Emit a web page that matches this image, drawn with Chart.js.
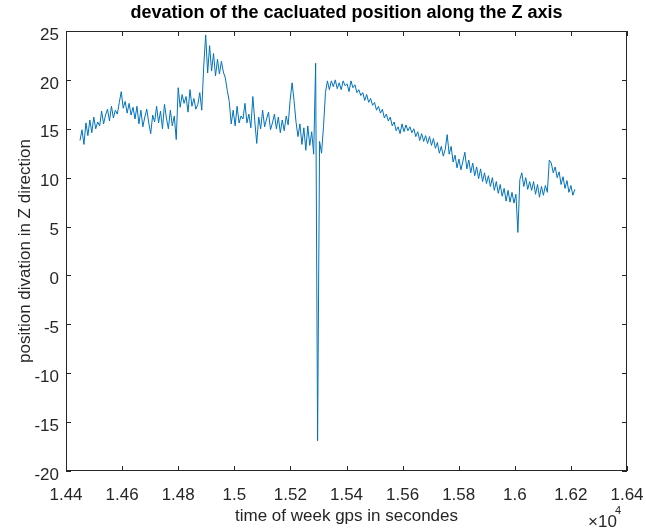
<!DOCTYPE html>
<html>
<head>
<meta charset="utf-8">
<script src="https://cdn.jsdelivr.net/npm/chart.js@4"></script>
<style>
  html, body { margin: 0; padding: 0; background: #fff; }
  #wrap { width: 646px; height: 529px; }
</style>
</head>
<body>
<div id="wrap"><canvas id="myChart" width="646" height="529"></canvas></div>
<script>
// gps time of week, one sample every 7 s starting at 14450 s
const timeStart = 14450;
const timeStep = 7;

// deviation along Z
const zValues = [
  13.8, 14.9, 13.4, 15.6, 14.3, 15.9, 14.6, 16.2, 15.0, 15.7,
  15.3, 16.8, 15.5, 16.4, 17.0, 15.8, 17.3, 16.1, 16.9, 16.5,
  17.7, 18.8, 17.1, 17.8, 16.6, 17.6, 16.4, 17.2, 16.0, 17.3,
  15.5, 16.9, 15.2, 16.2, 17.0, 15.6, 14.5, 16.4, 15.7, 17.3,
  15.6, 16.8, 15.0, 17.5, 16.1, 15.0, 16.9, 15.3, 16.3, 13.9,
  19.2, 17.2, 18.5, 17.6, 18.3, 16.7, 19.0, 17.3, 18.1, 17.0,
  17.5, 18.7, 16.9, 21.4, 24.6, 20.7, 23.5, 20.9, 22.7, 20.4,
  22.1, 20.6, 21.9, 20.8, 20.2, 18.9, 17.8, 15.5, 16.9, 15.3,
  17.3, 15.6, 16.3, 16.0, 17.6, 15.6, 16.5, 15.1, 18.3, 15.8,
  13.5, 16.2, 15.0, 16.9, 15.2, 16.0, 16.7, 14.9, 15.6, 16.5,
  15.0, 16.2, 14.6, 15.9, 14.8, 16.3, 15.4, 17.9, 19.7, 17.9,
  15.7, 14.2, 15.5, 13.4, 15.1, 12.8, 15.3, 13.3, 14.7, 12.4,
  21.7, -16.9, 13.7, 12.5, 15.2, 18.7, 19.9, 19.0, 19.9, 19.3,
  20.0, 19.1, 19.7, 19.0, 19.9, 19.4, 19.6, 18.8, 19.9, 19.2,
  19.5, 18.7, 19.0, 18.4, 18.7, 17.9, 18.5, 17.7, 18.1, 17.4,
  17.7, 16.9, 17.3, 16.6, 17.0, 16.1, 16.5, 15.8, 16.2, 15.3,
  15.7, 14.8, 15.2, 14.5, 15.5, 14.7, 15.4, 14.8, 15.2, 14.6,
  15.0, 14.2, 14.7, 13.8, 14.5, 13.7, 14.3, 13.5, 14.2, 13.3,
  14.0, 13.0, 13.6, 12.5, 13.2, 12.2, 12.9, 14.4, 12.4, 13.2,
  11.6, 12.3, 11.0, 11.9, 10.8, 11.7, 12.6, 10.9, 11.8, 10.5,
  11.5, 10.2, 11.1, 9.9, 10.9, 9.6, 10.5, 9.4, 10.2, 9.1,
  10.0, 8.7, 9.6, 8.4, 9.3, 8.1, 8.9, 7.6, 8.7, 7.5,
  8.5, 7.4, 8.3, 4.4, 9.8, 10.5, 9.1, 10.0, 8.8, 9.6,
  8.7, 9.6, 8.3, 9.3, 8.0, 9.1, 8.2, 9.2, 8.5, 11.8,
  11.5, 10.5, 11.1, 10.0, 10.6, 9.3, 10.1, 8.9, 9.7, 8.5,
  9.2, 8.2, 8.8
];

const xTicks = [14400, 14600, 14800, 15000, 15200, 15400, 15600, 15800, 16000, 16200, 16400];
const yTicks = [-20, -15, -10, -5, 0, 5, 10, 15, 20, 25];

const points = zValues.map((v, i) => ({ x: timeStart + i * timeStep, y: v }));

const FONT = '"Liberation Sans", Arial, Helvetica, sans-serif';
const INK = "#262626";

// matlab style box, inward ticks, title and the x10^4 exponent
const matlabAxes = {
  id: "matlabAxes",
  afterDraw(chart) {
    const { ctx, chartArea: a, scales } = chart;
    ctx.save();
    ctx.strokeStyle = INK;
    ctx.lineWidth = 1;
    ctx.strokeRect(a.left + 0.5, a.top + 0.5, a.right - a.left - 1, a.bottom - a.top - 1);
    ctx.beginPath();
    xTicks.forEach(t => {
      const px = Math.round(scales.x.getPixelForValue(t)) + 0.5;
      ctx.moveTo(px, a.bottom); ctx.lineTo(px, a.bottom - 5);
      ctx.moveTo(px, a.top); ctx.lineTo(px, a.top + 5);
    });
    yTicks.forEach(t => {
      const py = Math.round(scales.y.getPixelForValue(t)) + 0.5;
      ctx.moveTo(a.left, py); ctx.lineTo(a.left + 5, py);
      ctx.moveTo(a.right, py); ctx.lineTo(a.right - 5, py);
    });
    ctx.stroke();

    ctx.fillStyle = "#000";
    ctx.font = "bold 18px " + FONT;
    ctx.textAlign = "center";
    ctx.textBaseline = "middle";
    ctx.fillText("devation of the cacluated position along the Z axis", (a.left + a.right) / 2, 13);

    ctx.fillStyle = INK;
    ctx.font = "17px " + FONT;
    ctx.textAlign = "left";
    ctx.textBaseline = "alphabetic";
    ctx.fillText("\u00d710", 588, 527);
    ctx.font = "11px " + FONT;
    ctx.fillText("4", 615, 514);
    ctx.restore();
  }
};

const ctx = document.getElementById("myChart");
new Chart(ctx, {
  type: "line",
  data: {
    datasets: [
      {
        label: "Z deviation",
        data: points,
        borderColor: "rgb(0, 114, 189)",
        borderWidth: 1,
        pointRadius: 0,
        tension: 0,
        fill: false,
      },
    ],
  },
  options: {
    responsive: false,
    animation: false,
    layout: { padding: { left: 0, top: 31, right: 19, bottom: 0 } },
    plugins: {
      legend: { display: false },
      tooltip: { enabled: false },
      title: { display: false },
    },
    scales: {
      x: {
        type: "linear",
        min: 14400,
        max: 16400,
        afterFit: s => { s.height = 58; s.paddingLeft = 0; s.paddingRight = 0; },
        afterBuildTicks: s => { s.ticks = xTicks.map(v => ({ value: v })); },
        grid: { display: false, drawTicks: false },
        border: { display: false },
        ticks: {
          padding: 14,
          color: INK,
          font: { family: FONT, size: 17 },
          maxRotation: 0,
          autoSkip: false,
          callback: v => String(Math.round(v / 100) / 100),
        },
        title: {
          display: true,
          text: "time of week gps in secondes",
          color: INK,
          font: { family: FONT, size: 17 },
          padding: { top: 0, bottom: 2 },
        },
      },
      y: {
        min: -20,
        max: 25,
        afterFit: s => { s.width = 66; s.paddingTop = 0; s.paddingBottom = 0; },
        afterBuildTicks: s => { s.ticks = yTicks.map(v => ({ value: v })); },
        grid: { display: false, drawTicks: false },
        border: { display: false },
        ticks: {
          padding: 7,
          labelOffset: 4,
          color: INK,
          font: { family: FONT, size: 17 },
          autoSkip: false,
        },
        title: {
          display: true,
          text: "position divation in Z direction",
          color: INK,
          font: { family: FONT, size: 17 },
          padding: { top: 15, bottom: 0 },
        },
      },
    },
  },
  plugins: [matlabAxes],
});
</script>
</body>
</html>
